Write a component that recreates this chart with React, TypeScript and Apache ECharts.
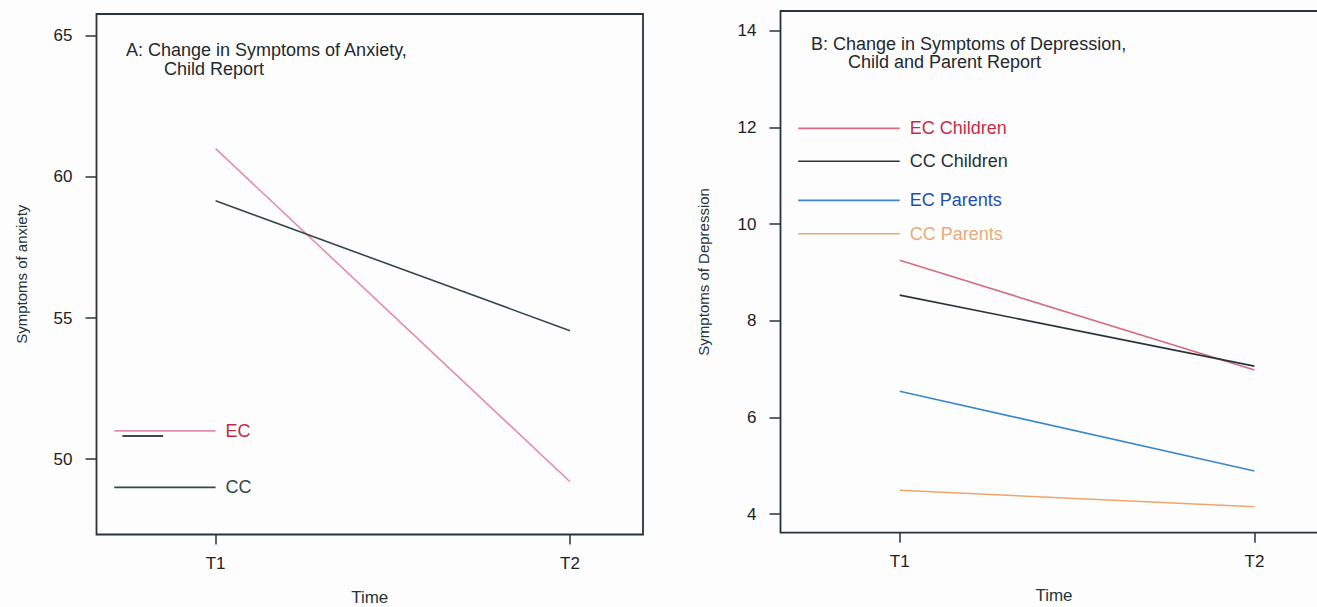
import React, { useEffect, useRef } from "react";
import * as echarts from "echarts";

// ---- data ----
const timeLabels = ["T1", "T2"];
const timePositions = [1, 2];

const anxietyTicks = [50, 55, 60, 65];
const depressionTicks = [4, 6, 8, 10, 12, 14];

const anxietyEC = [61.0, 49.2];
const anxietyCC = [59.15, 54.55];

const depECChildren = [9.25, 6.98];
const depCCChildren = [8.53, 7.06];
const depECParents = [6.54, 4.89];
const depCCParents = [4.49, 4.15];

const legendANames = ["EC", "CC"];
const legendAValues = [51.0, 49.0];
const legendAStubX = [0.737, 0.852];
const legendAStubY = 50.82;
const legendBNames = ["EC Children", "CC Children", "EC Parents", "CC Parents"];
const legendBValues = [11.98, 11.3, 10.49, 9.8];

const titleA = ["A: Change in Symptoms of Anxiety,", "Child Report"];
const titleB = ["B: Change in Symptoms of Depression,", "Child and Parent Report"];

const FONT = "'Liberation Sans', Arial, sans-serif";
const DARK = "#26353b";

const colorsA = ["#e38ea4", "#34474d"];
const textColorsA = ["#c42a44", "#34474d"];
const colorsB = ["#d66c80", "#2a3438", "#3a88cc", "#eea66c"];
const textColorsB = ["#c52c44", "#263236", "#1f4fae", "#e8aa7c"];

const X_MIN = 0.664;
const X_MAX = 2.206;
const LEGEND_X0 = 0.714;

function pair(vals: number[]) {
  return timePositions.map((x, i) => [x, vals[i]]);
}

function legendLine(
  name: string,
  y: number,
  color: string,
  textColor: string,
  axis: number
) {
  return {
    type: "line",
    name,
    xAxisIndex: axis,
    yAxisIndex: axis,
    data: [
      [LEGEND_X0, y],
      [1, y],
    ],
    symbol: "none",
    lineStyle: { color, width: 1.6 },
    endLabel: {
      show: true,
      formatter: name,
      distance: 10,
      color: textColor,
      fontSize: 18,
      fontFamily: FONT,
    },
    silent: true,
  };
}

function dataLine(name: string, vals: number[], color: string, axis: number) {
  return {
    type: "line",
    name,
    xAxisIndex: axis,
    yAxisIndex: axis,
    data: pair(vals),
    symbol: "none",
    lineStyle: { color, width: 1.6 },
    silent: true,
  };
}

function xAxis(gridIndex: number) {
  return {
    type: "value",
    gridIndex,
    min: X_MIN,
    max: X_MAX,
    name: "Time",
    nameLocation: "middle",
    nameGap: 54,
    nameTextStyle: { fontSize: 17, color: DARK, fontFamily: FONT },
    axisLine: { show: false },
    splitLine: { show: false },
    axisTick: {
      show: true,
      length: 10,
      customValues: timePositions,
      lineStyle: { color: DARK, width: 1.5 },
    },
    axisLabel: {
      customValues: timePositions,
      formatter: (v: number) => timeLabels[timePositions.indexOf(v)] ?? "",
      margin: 20,
      fontSize: 17,
      color: "#222",
      fontFamily: FONT,
    },
  };
}

function yAxis(
  gridIndex: number,
  min: number,
  max: number,
  ticks: number[],
  name: string,
  nameGap: number
) {
  return {
    type: "value",
    gridIndex,
    min,
    max,
    name,
    nameLocation: "middle",
    nameGap,
    nameTextStyle: { fontSize: 15, color: DARK, fontFamily: FONT },
    axisLine: { show: false },
    splitLine: { show: false },
    axisTick: {
      show: true,
      length: 11,
      customValues: ticks,
      lineStyle: { color: DARK, width: 1.5 },
    },
    axisLabel: {
      customValues: ticks,
      margin: 24,
      fontSize: 17,
      color: "#222",
      fontFamily: FONT,
    },
  };
}

function titleTexts(lines: string[], x1: number, x2: number, y1: number, y2: number) {
  return [
    {
      type: "text",
      left: x1,
      top: y1,
      style: { text: lines[0], fontSize: 18, fill: "#1e2a2e", fontFamily: FONT },
    },
    {
      type: "text",
      left: x2,
      top: y2,
      style: { text: lines[1], fontSize: 18, fill: "#1e2a2e", fontFamily: FONT },
    },
  ];
}

export default function App() {
  const ref = useRef<HTMLDivElement>(null);

  useEffect(() => {
    if (!ref.current) return;
    const chart = echarts.init(ref.current, undefined, { renderer: "svg" });

    const option = {
      animation: false,
      backgroundColor: "#fdfdfd",
      grid: [
        {
          left: 96.5,
          top: 14,
          width: 546.5,
          height: 520.5,
          show: true,
          borderColor: DARK,
          borderWidth: 1.8,
          backgroundColor: "transparent",
          containLabel: false,
          outerBoundsMode: "none",
        },
        {
          left: 780.5,
          top: 11,
          width: 547,
          height: 521.7,
          show: true,
          borderColor: DARK,
          borderWidth: 1.8,
          backgroundColor: "transparent",
          containLabel: false,
          outerBoundsMode: "none",
        },
      ],
      xAxis: [xAxis(0), xAxis(1)],
      yAxis: [
        yAxis(0, 47.33, 65.77, anxietyTicks, "Symptoms of anxiety", 68),
        yAxis(1, 3.613, 14.41, depressionTicks, "Symptoms of Depression", 70),
      ],
      graphic: [
        ...titleTexts(titleA, 126, 164, 41, 60),
        ...titleTexts(titleB, 811, 848, 35, 53),
      ],
      series: [
        dataLine("EC", anxietyEC, colorsA[0], 0),
        dataLine("CC", anxietyCC, colorsA[1], 0),
        ...legendANames.map((n, i) =>
          legendLine(n, legendAValues[i], colorsA[i], textColorsA[i], 0)
        ),
        {
          type: "line",
          name: "stub",
          xAxisIndex: 0,
          yAxisIndex: 0,
          data: legendAStubX.map((x) => [x, legendAStubY]),
          symbol: "none",
          lineStyle: { color: "#3a4a50", width: 2.2 },
          silent: true,
        },
        dataLine("EC Children", depECChildren, colorsB[0], 1),
        dataLine("CC Children", depCCChildren, colorsB[1], 1),
        dataLine("EC Parents", depECParents, colorsB[2], 1),
        dataLine("CC Parents", depCCParents, colorsB[3], 1),
        ...legendBNames.map((n, i) =>
          legendLine(n, legendBValues[i], colorsB[i], textColorsB[i], 1)
        ),
      ],
    };

    chart.setOption(option as any);
    return () => chart.dispose();
  }, []);

  return (
    <div
      ref={ref}
      style={{ position: "fixed", left: 0, top: 0, width: 1317, height: 607 }}
    />
  );
}
